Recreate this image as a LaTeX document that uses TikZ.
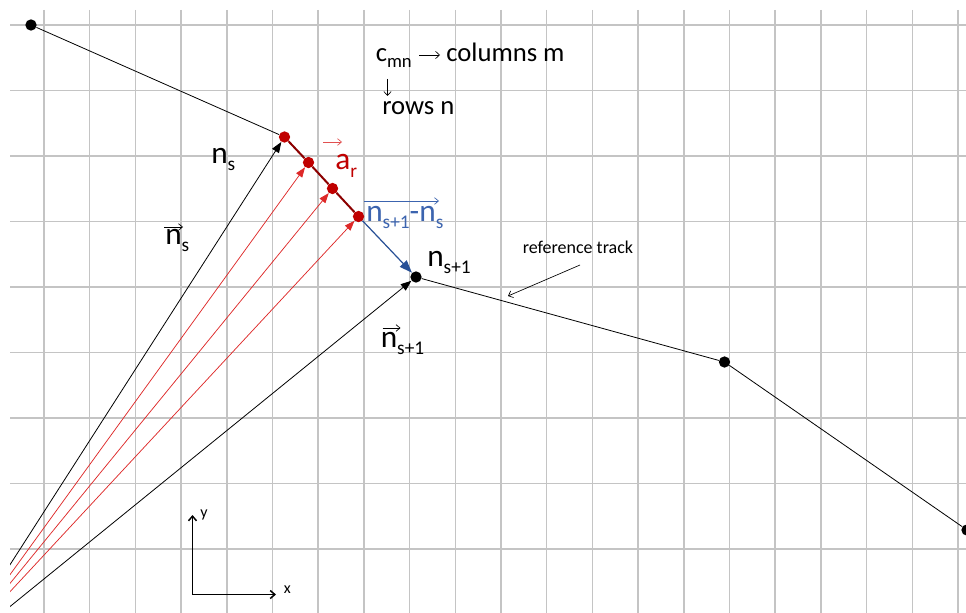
\documentclass[tikz,border=0pt]{standalone}
\usepackage{fontspec}
\setmainfont{Carlito}
\usetikzlibrary{arrows.meta,calc}
\definecolor{gridgray}{RGB}{196,196,196}
\definecolor{dotred}{RGB}{192,0,0}
\definecolor{trackred}{RGB}{140,0,0}
\definecolor{vecred}{RGB}{222,40,40}
\definecolor{arrblue}{RGB}{40,80,150}
\definecolor{txtblue}{RGB}{60,100,175}
\definecolor{lightred}{RGB}{225,80,80}
\newcommand\bigsub[1]{\raisebox{-5.5pt}{\fontsize{14.5}{16}\selectfont #1}}
\newcommand\midsub[1]{\raisebox{-4pt}{\fontsize{14}{15}\selectfont #1}}
\begin{document}
\begin{tikzpicture}[x=0.75pt,y=-0.75pt,
  gridline/.style={gridgray, line width=1.1pt},
  dot/.style={circle, fill=black, inner sep=0pt, minimum size=8.5pt},
  rdot/.style={dot, fill=dotred},
  trackline/.style={black, line width=0.6pt},
  redtrack/.style={trackred, line width=1.5pt},
  blackvec/.style={black, line width=0.6pt, -{Triangle[length=8pt,width=6pt]}},
  redvec/.style={vecred, line width=0.55pt, -{Triangle[length=7.5pt,width=5.5pt]}},
  bluevec/.style={arrblue, line width=0.9pt, -{Triangle[length=9.5pt,width=7pt]}},
  thinarr/.style={black, line width=0.5pt, -{Straight Barb[length=3pt,width=5.5pt]}},
  vecarr/.style={line width=0.5pt, -{Straight Barb[length=3pt,width=5pt]}},
  axisarr/.style={black, line width=1.1pt, -{Straight Barb[length=3.5pt,width=6pt]}},
  sym/.style={inner sep=0pt, anchor=base west, font=\fontsize{23.5}{27}\selectfont},
  txt/.style={inner sep=0pt, anchor=base west, font=\fontsize{20}{24}\selectfont},
  small/.style={inner sep=0pt, anchor=base west, font=\fontsize{13.5}{16}\selectfont},
  axlbl/.style={inner sep=0pt, anchor=base west, font=\fontsize{12}{14}\selectfont}]
\useasboundingbox (0,0) rectangle (966,613);
\fill[white] (0,0) rectangle (966,613);
% grid
\foreach \i in {0,...,20} \draw[gridline] ({44+45.7*\i},10) -- ({44+45.7*\i},613);
\foreach \j in {0,...,8} \draw[gridline] (10,{25+65.5*\j}) -- (966,{25+65.5*\j});
% points
\coordinate (O) at (-46,652);
\node[dot] (p0) at (31,25) {};
\node[rdot] (ns) at (284.5,137) {};
\node[rdot] (r1) at (308.5,162.5) {};
\node[rdot] (r2) at (332.5,188.5) {};
\node[rdot] (r3) at (358.5,216.5) {};
\node[dot] (ns1) at (416,277) {};
\node[dot] (p3) at (724.5,362) {};
\node[dot] (p4) at (967,530) {};
% track
\draw[trackline] (p0) -- (ns);
\draw[redtrack] (ns) -- (r1) -- (r2) -- (r3);
\draw[bluevec] (r3) -- (ns1);
\draw[trackline] (ns1) -- (p3) -- (p4);
% vectors
\begin{scope}
\clip (10,0) rectangle (966,613);
\draw[blackvec] (O) -- (ns);
\draw[redvec] (O) -- (r1);
\draw[redvec] (O) -- (r2);
\draw[redvec] (O) -- (r3);
\draw[blackvec] (O) -- (ns1);
\end{scope}
% labels
\node[txt] (cmn) at (375.5,62) {c\midsub{mn}};
\node[txt] (cols) at (446,62) {columns m};
\node[txt] (rows) at (382,115) {rows n};
\coordinate (ca) at (419,55);
\coordinate (cb) at (440,55);
\coordinate (cc) at (387.5,79);
\coordinate (cd) at (387.5,96);
\draw[thinarr] (ca) -- (cb);
\draw[thinarr] (cc) -- (cd);
\node[sym] (lns) at (211,163) {n\bigsub{s}};
\node[sym] (lvns) at (165,244) {n\bigsub{s}};
\draw[vecarr, black] ($(lvns.base west)+(-1,-17)$) -- ($(lvns.base west)+(18,-17)$);
\node[sym, text=dotred] (lar) at (335,170) {a\bigsub{r}};
\draw[vecarr, lightred] ($(lar.base west)+(-12,-28)$) -- ($(lar.base west)+(7,-28)$);
\node[sym, text=txtblue] (lblue) at (366,221) {n\bigsub{s+1}-n\bigsub{s}};
\draw[vecarr, txtblue] ($(lblue.base west)+(-2,-20)$) -- ($(lblue.base west)+(73,-20)$);
\node[sym] (lns1) at (427,266) {n\bigsub{s+1}};
\node[sym] (lvns1) at (380.5,347) {n\bigsub{s+1}};
\draw[vecarr, black] ($(lvns1.base west)+(2,-19)$) -- ($(lvns1.base west)+(20,-19)$);
\node[small] (rt) at (522.5,253) {reference track};
\coordinate (rtail) at (580,265);
\coordinate (rtip) at (508,296);
\draw[thinarr] (rtail) -- (rtip);
% axes
\coordinate (ax0) at (192.5,594.5);
\coordinate (axy) at (192.5,515);
\coordinate (axx) at (276,594.5);
\draw[axisarr] (ax0) -- (axy);
\draw[axisarr] (ax0) -- (axx);
\node[axlbl] (ly) at (200,517) {y};
\node[axlbl] (lx) at (283.5,593) {x};
\end{tikzpicture}
\end{document}
